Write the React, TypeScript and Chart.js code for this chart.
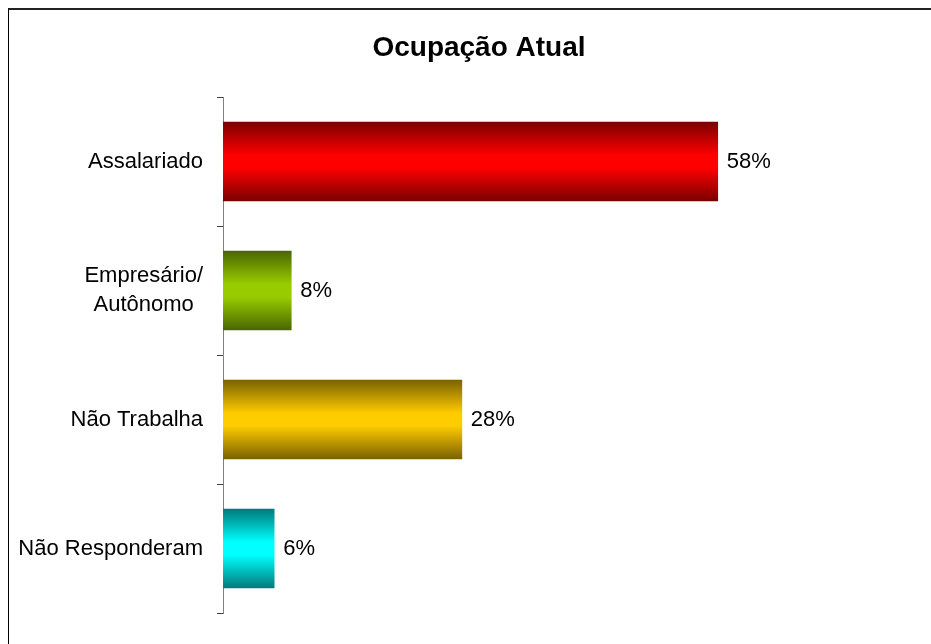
import React, { useEffect, useRef } from "react";
import { Chart, registerables } from "chart.js";

Chart.register(...registerables);

const titleText = "Ocupação Atual";
const categories: (string | string[])[] = [
  "Assalariado",
  ["Empresário/", "Autônomo"],
  "Não Trabalha",
  "Não Responderam",
];
const values = [58, 8, 28, 6];
const valueLabels = ["58%", "8%", "28%", "6%"];
const darkColors = ["#7a0000", "#4a6600", "#7a6200", "#007a7a"];
const brightColors = ["#ff0000", "#99cc00", "#ffcc00", "#00ffff"];

const FONT = '"Liberation Sans", Arial, sans-serif';
const BAR_THICKNESS = 79;

const labelsPlugin = {
  id: "customLabels",
  afterDraw(chart: any) {
    const { ctx, scales } = chart;
    const y = scales.y;
    const x = scales.x;
    ctx.save();
    ctx.font = `22px ${FONT}`;
    ctx.fillStyle = "#000";
    ctx.textBaseline = "middle";
    const labelRight = 194;
    const lineH = 29;
    categories.forEach((cat, i) => {
      const yc = y.getPixelForValue(i);
      const lines = Array.isArray(cat) ? cat : [cat];
      const maxW = Math.max(...lines.map((l) => ctx.measureText(l).width));
      const cx = labelRight - maxW / 2;
      ctx.textAlign = "center";
      lines.forEach((l, j) => {
        const ly = yc + (j - (lines.length - 1) / 2) * lineH;
        ctx.fillText(l, cx, ly);
      });
      ctx.textAlign = "left";
      ctx.fillText(valueLabels[i], x.getPixelForValue(values[i]) + 9, yc);
    });
    ctx.restore();
  },
};

export default function App() {
  const ref = useRef<HTMLCanvasElement>(null);
  useEffect(() => {
    if (!ref.current) return;
    const chart = new Chart(ref.current, {
      type: "bar",
      data: {
        labels: categories as any,
        datasets: [
          {
            data: values,
            barThickness: BAR_THICKNESS,
            borderWidth: 0,
            backgroundColor: (c: any) => {
              const ch = c.chart;
              const area = ch.chartArea;
              const i = c.dataIndex;
              if (!area || i === undefined) return brightColors[i ?? 0];
              const yc = ch.scales.y.getPixelForValue(i);
              const h = BAR_THICKNESS / 2;
              const g = ch.ctx.createLinearGradient(0, yc - h, 0, yc + h);
              g.addColorStop(0, darkColors[i]);
              g.addColorStop(0.42, brightColors[i]);
              g.addColorStop(0.58, brightColors[i]);
              g.addColorStop(1, darkColors[i]);
              return g;
            },
          },
        ],
      },
      options: {
        indexAxis: "y",
        responsive: false,
        animation: false,
        layout: { padding: { left: 18, right: 0, top: 0, bottom: 31 } },
        plugins: {
          legend: { display: false },
          tooltip: { enabled: false },
          title: {
            display: true,
            text: titleText,
            color: "#000",
            font: { family: FONT, size: 28, weight: "bold", lineHeight: 1.2 },
            padding: { top: 21, bottom: 32.4 },
          },
        },
        scales: {
          x: { display: false, min: 0, max: 83 },
          y: {
            type: "category",
            offset: true,
            ticks: { display: false },
            grid: {
              offset: true,
              drawOnChartArea: false,
              drawTicks: true,
              tickLength: 6,
              color: "#404040",
            },
            border: { display: true, color: "#808080", width: 1 },
            afterFit: (scale: any) => {
              scale.width = 196;
            },
          },
        },
      } as any,
      plugins: [labelsPlugin],
    });
    return () => chart.destroy();
  }, []);

  return (
    <div
      style={{
        position: "fixed",
        left: 8,
        top: 8,
        width: 960,
        height: 700,
        borderTop: "2px solid #222",
        borderLeft: "1px solid #000",
        background: "#fff",
      }}
    >
      <canvas
        ref={ref}
        width={922}
        height={634}
        style={{ position: "absolute", left: 0, top: 0, width: 922, height: 634 }}
      />
    </div>
  );
}
